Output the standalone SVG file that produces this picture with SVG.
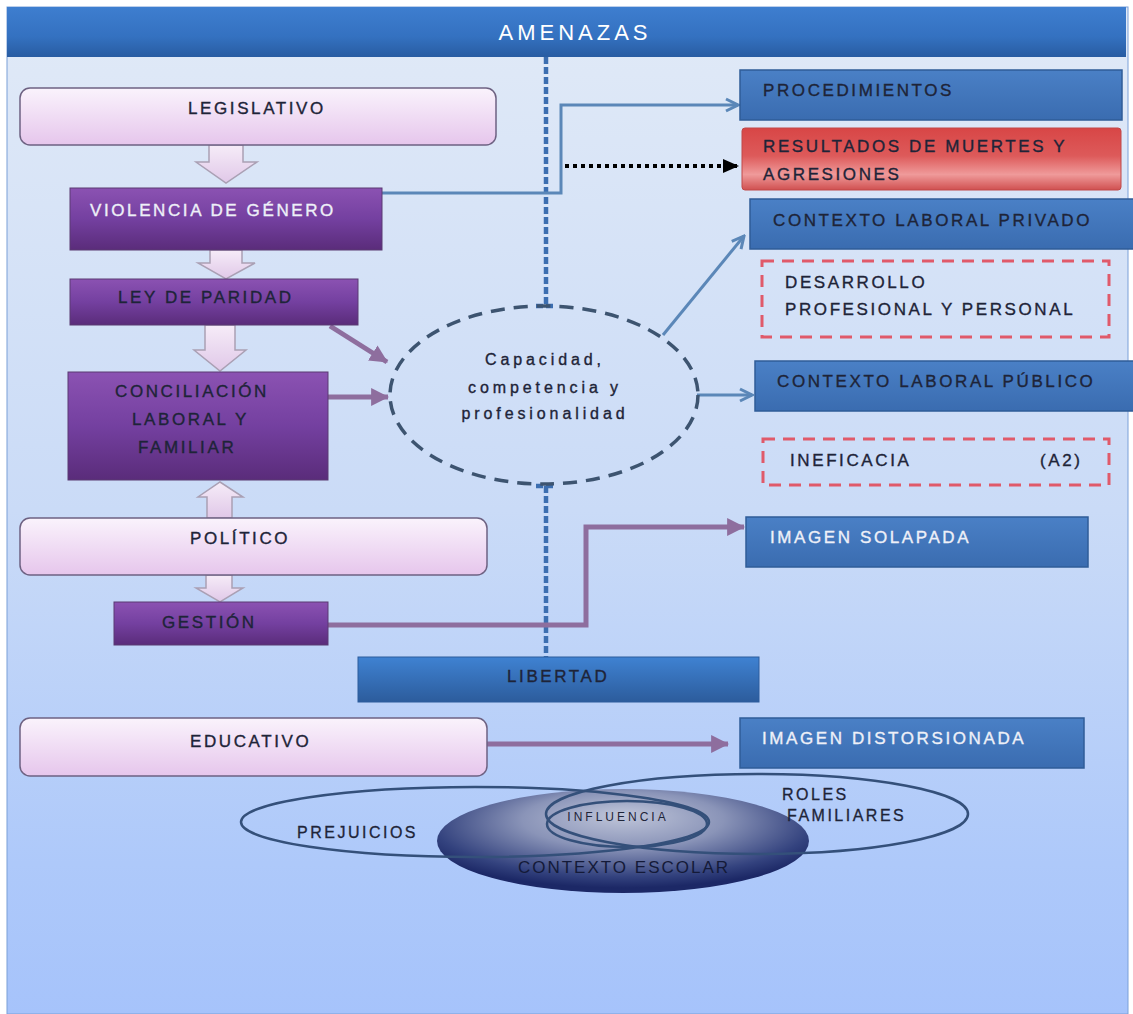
<svg xmlns="http://www.w3.org/2000/svg" width="1133" height="1014" viewBox="0 0 1133 1014">
<defs>
<linearGradient id="bg" x1="0" y1="0" x2="0" y2="1">
<stop offset="0" stop-color="#e1eaf7"/><stop offset="0.5" stop-color="#cadbf7"/><stop offset="0.85" stop-color="#aec9fa"/><stop offset="1" stop-color="#a6c3fb"/>
</linearGradient>
<linearGradient id="hdr" x1="0" y1="0" x2="0" y2="1">
<stop offset="0" stop-color="#3e7ecf"/><stop offset="0.6" stop-color="#3471c0"/><stop offset="1" stop-color="#285ca2"/>
</linearGradient>
<linearGradient id="pink" x1="0" y1="0" x2="0" y2="1">
<stop offset="0" stop-color="#faf3fc"/><stop offset="1" stop-color="#e6c6ec"/>
</linearGradient>
<linearGradient id="purple" x1="0" y1="0" x2="0" y2="1">
<stop offset="0" stop-color="#8b52b2"/><stop offset="0.5" stop-color="#7440a0"/><stop offset="1" stop-color="#5a2c7a"/>
</linearGradient>
<linearGradient id="blue" x1="0" y1="0" x2="0" y2="1">
<stop offset="0" stop-color="#4a80c6"/><stop offset="1" stop-color="#3a6cb0"/>
</linearGradient>
<linearGradient id="lib" x1="0" y1="0" x2="0" y2="1">
<stop offset="0" stop-color="#3f82d2"/><stop offset="1" stop-color="#2c5c9c"/>
</linearGradient>
<linearGradient id="red" x1="0" y1="0" x2="0" y2="1">
<stop offset="0" stop-color="#d84646"/><stop offset="0.45" stop-color="#dd5a5a"/><stop offset="0.75" stop-color="#ef9a9a"/><stop offset="1" stop-color="#d05050"/>
</linearGradient>
<linearGradient id="blk" x1="0" y1="0" x2="0" y2="1">
<stop offset="0" stop-color="#f6ecf8"/><stop offset="1" stop-color="#e0c8e8"/>
</linearGradient>
<radialGradient id="dark" cx="0.5" cy="0.35" r="0.6" fx="0.5" fy="0.25">
<stop offset="0" stop-color="#c0c6da"/><stop offset="0.45" stop-color="#8a94b8"/><stop offset="0.85" stop-color="#33427e"/><stop offset="1" stop-color="#1c2866"/>
</radialGradient>
<marker id="bArr" viewBox="0 0 16 16" refX="14" refY="8" markerWidth="16" markerHeight="16" markerUnits="userSpaceOnUse" orient="auto">
<path d="M2,2 L14,8 L2,14" fill="none" stroke="#5b87b8" stroke-width="3"/>
</marker>
<marker id="pArr" viewBox="0 0 16 16" refX="15" refY="8" markerWidth="18" markerHeight="18" markerUnits="userSpaceOnUse" orient="auto">
<path d="M0,0 L16,8 L0,16 Z" fill="#8e6e9e"/>
</marker>
<marker id="kArr" viewBox="0 0 16 16" refX="15" refY="8" markerWidth="16" markerHeight="16" markerUnits="userSpaceOnUse" orient="auto">
<path d="M0,1 L16,8 L0,15 Z" fill="#000"/>
</marker>
</defs>
<style>
text{font-family:"Liberation Sans",Arial,sans-serif;}
.t{font-size:17px;letter-spacing:2.6px;fill:#1e2438;stroke:#1e2438;stroke-width:0.35px;}
.w{fill:#eef0f8;stroke:#eef0f8;}
.e{font-size:16px;letter-spacing:3.9px;fill:#1e2438;stroke:#1e2438;stroke-width:0.35px;}
.v{font-size:16px;letter-spacing:2.5px;fill:#1e2438;stroke:#1e2438;stroke-width:0.3px;}
.pk{fill:url(#pink);stroke:#6e6282;stroke-width:1.5;}
.pu{fill:url(#purple);stroke:#5a3a72;stroke-width:1;}
.bl{fill:url(#blue);stroke:#2f5c98;stroke-width:1.5;}
.ba{fill:url(#blk);stroke:#aaa0b4;stroke-width:1.5;}
.rd{fill:none;stroke:#e05a6a;stroke-width:3;stroke-dasharray:12 8;}
.cb{fill:none;stroke:#5b87b8;stroke-width:3;}
.cp{fill:none;stroke:#8e6e9e;stroke-width:5;}
.ol{fill:none;stroke:#34507a;stroke-width:2.5;}
</style>
<rect x="0" y="0" width="1133" height="1014" fill="#ffffff"/>
<rect x="7" y="7" width="1121" height="1007" fill="url(#bg)" stroke="#7aa0d8" stroke-width="1"/>
<g id="header">
<rect x="7" y="7" width="1119" height="50" fill="url(#hdr)"/>
<text x="575" y="40" text-anchor="middle" style="font-size:22px;letter-spacing:4px;fill:#ffffff">AMENAZAS</text>
</g>
<g id="dashline">
<path d="M546,57 V306 M536,306 H556 M546,486 V658 M536,486 H556" fill="none" stroke="#3c6eb0" stroke-width="4.5" stroke-dasharray="7 3"/>
</g>
<g id="block-arrows">
<path class="ba" d="M209,145 L243,145 L243,162 L257,162 L226,183 L196,162 L209,162 Z"/>
<path class="ba" d="M210,250 L242,250 L242,263 L255,263 L226,279 L198,263 L210,263 Z"/>
<path class="ba" d="M205,325 L235,325 L235,350 L246,350 L220,371 L194,350 L205,350 Z"/>
<path class="ba" d="M207,518 L232,518 L232,497 L243,497 L220,482 L198,497 L207,497 Z"/>
<path class="ba" d="M206,575 L232,575 L232,588 L243,588 L220,602 L196,588 L206,588 Z"/>
</g>
<g id="connectors">
<polyline class="cb" points="382,193 561,193 561,105 738,105" marker-end="url(#bArr)"/>
<line x1="565" y1="166" x2="738" y2="166" stroke="#000" stroke-width="4" stroke-dasharray="4 4" marker-end="url(#kArr)"/>
<line class="cb" x1="663" y1="335" x2="744" y2="236" marker-end="url(#bArr)"/>
<line class="cb" x1="697" y1="395" x2="752" y2="395" marker-end="url(#bArr)"/>
<line class="cp" x1="330" y1="326" x2="387" y2="362" marker-end="url(#pArr)"/>
<line class="cp" x1="328" y1="397" x2="388" y2="397" marker-end="url(#pArr)"/>
<polyline class="cp" points="328,625 586,625 586,527 744,527" marker-end="url(#pArr)"/>
<line class="cp" x1="487" y1="744" x2="728" y2="744" marker-end="url(#pArr)"/>
</g>
<g id="legislativo">
<rect class="pk" x="20" y="88" width="476" height="57" rx="10"/>
<text class="t" x="188" y="114">LEGISLATIVO</text>
</g>
<g id="violencia">
<rect class="pu" x="70" y="188" width="312" height="62"/>
<text class="t w" x="90" y="216">VIOLENCIA DE GÉNERO</text>
</g>
<g id="paridad">
<rect class="pu" x="70" y="279" width="288" height="46"/>
<text class="t" x="118" y="303">LEY DE PARIDAD</text>
</g>
<g id="conciliacion">
<rect class="pu" x="68" y="372" width="260" height="108"/>
<text class="t" x="115" y="397">CONCILIACIÓN</text>
<text class="t" x="132" y="425">LABORAL Y</text>
<text class="t" x="138" y="453">FAMILIAR</text>
</g>
<g id="politico">
<rect class="pk" x="20" y="518" width="467" height="57" rx="10"/>
<text class="t" x="190" y="544">POLÍTICO</text>
</g>
<g id="gestion">
<rect class="pu" x="114" y="602" width="214" height="43"/>
<text class="t" x="162" y="628">GESTIÓN</text>
</g>
<g id="libertad">
<rect x="358" y="657" width="401" height="45" fill="url(#lib)" stroke="#2c5c9c" stroke-width="1"/>
<text class="t" x="507" y="682">LIBERTAD</text>
</g>
<g id="educativo">
<rect class="pk" x="20" y="718" width="467" height="58" rx="10"/>
<text class="t" x="190" y="747">EDUCATIVO</text>
</g>
<g id="capacidad">
<ellipse cx="544" cy="395" rx="154" ry="89" fill="none" stroke="#3d5470" stroke-width="3.5" stroke-dasharray="14 9"/>
<text class="e" x="545" y="365" text-anchor="middle">Capacidad,</text>
<text class="e" x="545" y="393" text-anchor="middle">competencia y</text>
<text class="e" x="545" y="419" text-anchor="middle">profesionalidad</text>
</g>
<g id="procedimientos">
<rect class="bl" x="740" y="70" width="382" height="50"/>
<text class="t" x="763" y="96">PROCEDIMIENTOS</text>
</g>
<g id="resultados">
<rect x="742" y="128" width="379" height="62" rx="3" fill="url(#red)" stroke="#c04848" stroke-width="1"/>
<text class="t" x="763" y="152">RESULTADOS DE MUERTES Y</text>
<text class="t" x="763" y="180">AGRESIONES</text>
</g>
<g id="privado">
<rect class="bl" x="750" y="199" width="386" height="50"/>
<text class="t" x="773" y="226">CONTEXTO LABORAL PRIVADO</text>
</g>
<g id="desarrollo">
<rect class="rd" x="762" y="261" width="347" height="76"/>
<text class="t" x="785" y="288">DESARROLLO</text>
<text class="t" x="785" y="315">PROFESIONAL Y PERSONAL</text>
</g>
<g id="publico">
<rect class="bl" x="755" y="361" width="381" height="50"/>
<text class="t" x="777" y="387">CONTEXTO LABORAL PÚBLICO</text>
</g>
<g id="ineficacia">
<rect class="rd" x="763" y="439" width="346" height="46"/>
<text class="t" x="790" y="466">INEFICACIA</text>
<text class="t" x="1040" y="466">(A2)</text>
</g>
<g id="solapada">
<rect class="bl" x="746" y="517" width="342" height="50"/>
<text class="t w" x="770" y="543">IMAGEN SOLAPADA</text>
</g>
<g id="distorsionada">
<rect class="bl" x="740" y="718" width="344" height="50"/>
<text class="t w" x="762" y="744">IMAGEN DISTORSIONADA</text>
</g>
<g id="contexto-escolar">
<ellipse cx="623" cy="841" rx="186" ry="52" fill="url(#dark)"/>
<text x="624" y="873" text-anchor="middle" style="font-size:17px;letter-spacing:2px;fill:#141a38">CONTEXTO ESCOLAR</text>
</g>
<g id="prejuicios">
<ellipse class="ol" cx="475" cy="822" rx="234" ry="35"/>
<text class="v" x="297" y="838">PREJUICIOS</text>
</g>
<g id="roles">
<ellipse class="ol" cx="757" cy="814" rx="211" ry="40"/>
<text class="v" x="782" y="800">ROLES</text>
<text class="v" x="787" y="821">FAMILIARES</text>
</g>
<g id="influencia">
<ellipse class="ol" cx="627" cy="824" rx="80" ry="23"/>
<text x="618" y="821" text-anchor="middle" style="font-size:12px;letter-spacing:3px;fill:#1e2438">INFLUENCIA</text>
</g>
</svg>
